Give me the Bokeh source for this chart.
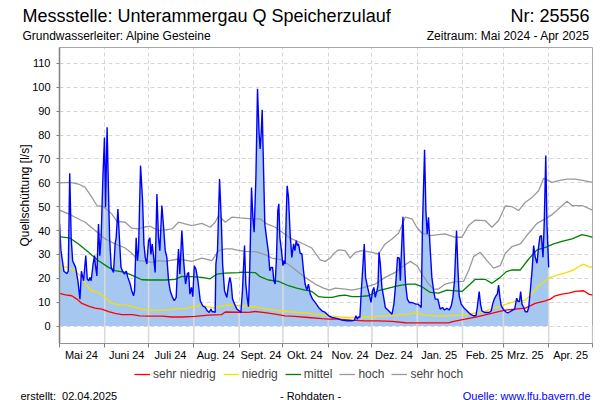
import numpy as np
import pandas as pd
from bokeh.plotting import figure
from bokeh.layouts import column
from bokeh.models import (Range1d, FixedTicker, CustomJSTickFormatter, Label,
                          Legend, LegendItem)
from bokeh.embed import file_html
from bokeh.resources import INLINE

# ---------------- data (x = days since 2024-05-01) ----------------
START = "2024-05-01"
END = "2025-05-01"

flow_day = [0, 1, 3, 5, 6, 7, 8, 9, 11, 12.6, 14, 15, 16.5, 18, 19, 20, 21, 21.7, 23, 24, 24.5,
            25.6, 26.7, 27.6, 28.5, 29.7, 30.8, 31.5, 32.6, 33.6, 34.3, 35.4, 37, 38.1, 38.8, 40,
            41, 42.1, 43.2, 44.5, 45.7, 46.8, 48.4, 49.5, 50.7, 51.4, 52.5, 53.4, 54.1, 55.5, 56.9,
            57.8, 58.7, 59.8, 61, 61.9, 62.6, 63.5, 64.6, 65.5, 66.7, 67.8, 68.7, 70.1, 71.3, 72.4,
            73.5, 74.7, 75.8, 77.4, 78.6, 79.9, 80.8, 81.5, 82.4, 83.8, 85, 86.3, 87.5, 88.4, 89.3,
            90.4, 91.3, 92.3, 93.4, 94.8, 96.4, 98, 99.8, 101.2, 102.5, 103.7, 104.6, 105.7, 106.6,
            107.1, 108.2, 109.6, 110.8, 111.7, 113, 114.6, 115.8, 116.7, 117.6, 118.5, 119.9, 121.5,
            123, 124.2, 125.3, 126.7, 127.6, 128.5, 129.4, 130.3, 131.5, 132.4, 133.3, 134.5, 135.6,
            136.7, 137.4, 138.1, 138.8, 139.7, 140.6, 142, 143.1, 144, 145, 145.9, 146.8, 147.7,
            148.6, 149.5, 150.2, 150.9, 152, 153, 153.9, 154.5, 155.2, 155.9, 156.8, 158, 159.1,
            160.3, 161.2, 162.1, 163, 163.7, 164.8, 166, 167.1, 168.2, 169.4, 170.5, 171.7, 173.3,
            175.1, 177.4, 179.7, 182, 184.3, 186.6, 190, 193.4, 196.8, 200.3, 202, 203, 204, 204.8,
            205.7, 206.7, 208.7, 209.6, 211, 212.1, 213.3, 214.4, 215.3, 216.2, 217.4, 218.1, 218.8,
            219.7, 220.8, 222, 223.1, 225.4, 227.7, 229, 230.4, 231.5, 232.7, 233.4, 234, 235.2,
            236.1, 237, 238.2, 239.5, 240.9, 242.5, 244.1, 245.4, 246.8, 247.7, 248.6, 250, 250.9,
            251.8, 252.7, 253.9, 255, 256.2, 257.3, 259.1, 260.7, 262.3, 263.7, 265.3, 266.9, 268.3,
            269.4, 270.5, 271.9, 272.8, 273.7, 275.1, 276.7, 279, 281.3, 283.6, 285.2, 286.1, 287.4,
            288.3, 289.3, 291.1, 292.7, 294.3, 295.7, 296.6, 297.7, 298.9, 299.8, 300.7, 301.6,
            302.5, 304, 305.5, 307, 308.7, 310.3, 311.7, 313.1, 314, 315, 315.8, 316.7, 317.9, 319,
            320.4, 321.3, 322.4, 323.6, 324.7, 325.8, 327, 327.9, 329, 330, 331.1, 332, 333, 333.8,
            335]
flow_val = [42.8, 31.6, 23, 22, 23, 64, 37, 27.4, 24.6, 19, 11.3, 23, 19, 29.5, 19.7, 19, 20.4, 19,
            26, 29.5, 26, 21, 42.8, 29.5, 37, 62, 79, 49.8, 83.3, 55, 37, 24.6, 22.5, 34.4, 37, 49,
            37, 24.6, 23, 21.8, 23, 20.4, 17.6, 14.8, 12.7, 14.8, 37, 27.4, 31.6, 67.2, 52.5, 34.4,
            28.8, 26, 35.8, 37, 30, 34.4, 28, 22.5, 55.3, 37, 31.6, 50.5, 41.4, 31.6, 28.8, 19, 14.8,
            12, 10.6, 12, 24.6, 32.3, 21.8, 40, 27.4, 17.6, 21.8, 22.5, 13.4, 16.2, 12.3, 25.3, 23.9,
            19, 10.6, 8.5, 7.8, 6.4, 5.7, 7.1, 6, 6, 5.7, 26, 31.6, 61.6, 44.2, 26, 14.8, 12, 17.6,
            20.4, 17.6, 11.3, 9.2, 7.1, 6.4, 5.7, 14.8, 33.7, 17.6, 12, 8.1, 24.6, 58, 45.6, 39.3,
            62.3, 99.4, 80.5, 74.2, 80.5, 90.6, 66.5, 42.8, 35.8, 30.9, 23.2, 24.6, 24.6, 19, 17.6,
            28.8, 48.4, 51.2, 37.2, 31.6, 25.3, 27.4, 26, 44.9, 58.8, 54, 37.9, 28.8, 34.4, 31.6,
            35.8, 33.7, 34.4, 30.5, 30.2, 23.2, 17.6, 15.1, 17.6, 13.4, 11.3, 9.9, 7.8, 6.4, 5.7,
            4.3, 3.6, 3.2, 2.5, 2.2, 2.2, 2.5, 4.3, 2.9, 3.9, 3.6, 14.8, 34.4, 20.4, 16.2, 13.4, 9.9,
            14.8, 16.2, 12, 14.8, 16.9, 30.9, 26, 16.2, 12, 7.8, 6.4, 5, 9.2, 19, 28.8, 28.5, 19,
            28.8, 45.8, 28.8, 17.6, 11.3, 9.9, 9.9, 9.6, 9.2, 9.2, 8.5, 7.8, 42.8, 73.9, 48.4, 38.6,
            45.6, 31.6, 20.4, 14.8, 11.3, 11.3, 7.1, 7.8, 6.7, 7.5, 6.7, 8.5, 12, 19, 40, 24.6, 12.7,
            9.2, 7.8, 6.4, 5, 4.3, 4.3, 7.8, 14.5, 9.2, 6.4, 5.7, 5.7, 5.7, 6.4, 9.2, 11.3, 12.7,
            13.4, 17.2, 12, 8.5, 7, 6, 5.5, 6.1, 6.7, 7.1, 11.7, 10.3, 10.3, 14.5, 9.2, 7.8, 6, 6,
            7.8, 14.8, 23.2, 33.7, 28.8, 26.3, 32.3, 37.5, 37.9, 28.8, 44.2, 71.4, 42.8, 24.6]

sehr_niedrig_day = [0, 4, 8.4, 11.9, 15.3, 19.9, 24.4, 29, 33.6, 38.1, 42.7, 50, 55, 61, 70, 77, 84,
                    93, 102, 111, 113.5, 122.6, 129.4, 134, 140.8, 147.7, 154.5, 161.4, 170.5,
                    179.7, 185, 191, 200, 209, 218.5, 227.7, 237, 247, 255, 266.4, 270, 277.8,
                    285.8, 293.8, 300.7, 305.3, 312, 319, 325.8, 332.7, 336.1, 339.5, 344.1, 348.7,
                    353.2, 359, 362.4, 365]
sehr_niedrig_val = [13.7, 13.1, 12.7, 11.3, 9.5, 8.4, 7.5, 7.1, 6.1, 5.3, 4.8, 4.8, 4.3, 4.2, 4.2,
                    3.8, 3.8, 4.1, 4.6, 4.8, 5.9, 5.8, 5.7, 6.1, 5.6, 5, 4.3, 4.1, 3.6, 3.1, 2.9,
                    2.9, 2.5, 2.2, 2.2, 2, 1.4, 1.3, 1.3, 1.3, 2, 2.9, 3.9, 5, 6.1, 6.7, 7.1, 7.5,
                    9.5, 10.6, 11.3, 12.7, 13.4, 13.8, 14.5, 14.8, 13.4, 13]

niedrig_day = [0, 6, 10.7, 15.3, 18.7, 22, 26.7, 31.3, 35.8, 40.4, 46, 51.8, 56.4, 62, 72.4, 79.2,
               86, 93, 96.4, 101, 105.5, 110, 114.6, 122.6, 127, 134, 140.8, 147.7, 156.8, 166,
               175, 185.4, 189, 195.7, 204.8, 214, 223, 232, 239, 243.6, 250.5, 257.3, 266.4,
               275.6, 284.7, 289.3, 295, 300.7, 306, 312.1, 319, 323.6, 328.1, 332.7, 336.1,
               341.8, 347.5, 353.2, 356.7, 359, 362, 365]
niedrig_val = [24.9, 24.6, 23.2, 20.4, 16.9, 14.8, 14.1, 12, 9.6, 8.9, 8.9, 7.8, 7.1, 6.7, 6.7, 7.1,
               7.4, 8.1, 8.9, 8.1, 7.5, 8.1, 8.8, 8.6, 8.4, 8.1, 7.1, 6.7, 6, 5.6, 5, 4.3, 4.1,
               3.6, 3.6, 3.9, 4.3, 4.6, 5, 5.5, 4.6, 4.3, 4.3, 4.6, 5.5, 5.7, 7, 8.1, 9.2, 10.3,
               10.9, 13.4, 16.9, 19, 20.4, 21.5, 22.5, 23.9, 25.3, 26, 24.9, 24.6]

mittel_day = [0, 7.3, 13, 19.9, 26.7, 33.6, 38, 45, 51.8, 56.4, 62, 72.4, 79.2, 83.8, 90.7, 97.5,
              103.2, 107.8, 113.5, 122.6, 124.9, 134, 137.4, 143, 150, 156.8, 162.5, 168.2, 172.8,
              177.4, 182, 186.6, 191, 195.7, 200.3, 204.8, 211.7, 218.5, 225.4, 232.2, 239,
              243.6, 248.2, 253.9, 259.6, 265.3, 275.6, 281.3, 284.7, 291.5, 296.1, 301.8, 306,
              309.9, 315.6, 321.3, 327, 332.7, 338.4, 344.1, 351, 357.8, 362.4, 365]
mittel_val = [37.5, 36.8, 34.4, 30.9, 27.4, 24.6, 23.2, 22.5, 20.7, 19.4, 19.3, 19.3, 19.6, 20.8,
              20.7, 20.4, 19.8, 21.8, 22.2, 22.4, 22.6, 22.4, 20.7, 19.3, 18.7, 16.9, 15.9, 15.1,
              14.5, 12.3, 12, 12, 12.7, 13, 12.3, 12.3, 12.7, 14.8, 15.9, 16.9, 17.6, 17.6, 16.5,
              14.1, 13.8, 15.1, 14.5, 17.6, 19.6, 19.6, 17.9, 20.4, 22.8, 23.5, 23.5, 28.1, 31.9,
              33, 34.4, 35.5, 36.5, 38.3, 37.7, 37.2]

hoch_day = [0, 6.2, 10.7, 17.6, 24.4, 31.3, 38.1, 45, 49.5, 54.1, 58.7, 63.3, 67.8, 72.4, 81.5,
            90.7, 97.5, 104.4, 109, 113.5, 118, 122.6, 127, 134, 140.8, 145.4, 152.3, 158, 163.7,
            168.2, 175, 180.8, 185, 188.8, 195.7, 200.3, 207, 216.2, 223, 230, 235.7, 240.2,
            244.8, 247, 249, 252.7, 256.2, 259.6, 264.1, 271, 276.7, 280.1, 283.6, 288.1, 292.7,
            297.3, 301.8, 305.3, 309.9, 315.6, 321.3, 327, 332.7, 337.3, 343, 347.5, 351, 357.8,
            365]
hoch_val = [48.6, 47, 45.6, 43.5, 40, 36.5, 34.4, 32.7, 30.5, 27.4, 27.2, 26.7, 27.4, 27.1, 28.1,
            27.1, 28.5, 27.4, 31.6, 32.3, 32.3, 31.7, 31.3, 31.2, 29.9, 28.5, 27.7, 25.3, 22.5,
            20.4, 17.6, 15.9, 15.1, 15.9, 15.5, 15.1, 15.9, 17.6, 20.4, 22.5, 25.3, 27.1, 25.3,
            23, 21, 17.6, 15.5, 15.5, 17.6, 18.6, 18.7, 23.2, 29.1, 30.9, 27.4, 24.3, 25.3, 30.5,
            33.3, 34.4, 38.9, 43, 44.9, 46.7, 49.8, 52.3, 50.5, 50.5, 48.6]

sehr_hoch_day = [0, 7.3, 13, 17.6, 22.1, 25.6, 30.1, 35.8, 39.3, 45, 49.5, 54.1, 58.7, 62, 67.8,
                 72.4, 77, 81.5, 86, 90.7, 97.5, 103.2, 106.6, 109, 113.5, 118, 123.8, 131.7,
                 137.4, 142, 147.7, 153.4, 159.1, 166, 172.8, 178.5, 182, 185.4, 188, 191, 195.7,
                 199, 202.5, 207, 214, 218.5, 223, 227.7, 232.2, 236.8, 241.4, 244.5, 248.2,
                 253.9, 264.1, 271, 275.6, 280.1, 284.7, 291.5, 296.1, 300.7, 305.3, 309.9, 314.4,
                 319, 323.6, 328.1, 331.6, 337.3, 341.8, 347.5, 353.2, 359, 365]
sehr_hoch_val = [60, 60.2, 59.5, 58.1, 54, 50.5, 50, 47, 43.9, 43.5, 41, 40.7, 41.6, 41.8, 40,
                 40.3, 40.7, 43.5, 42.8, 42.1, 43, 41.4, 43.5, 46.3, 43.5, 45.6, 45.3, 44.9, 44.9,
                 42.8, 41.4, 38.9, 36.5, 34.7, 32.7, 27.7, 27.1, 28.5, 30.5, 31.9, 31.6, 28.5,
                 30.9, 31.6, 30.9, 30.2, 34.4, 36.5, 38.9, 45.6, 44.9, 41.6, 38.9, 37.9, 38.6,
                 37.2, 37.2, 42.1, 44.4, 44.2, 41.4, 44.2, 50.3, 50, 48.4, 51.9, 53.9, 56.7, 61.9,
                 60.2, 60.9, 61.6, 61.6, 60.9, 60.2]

y_ticks = [0, 10, 20, 30, 40, 50, 60, 70, 80, 90, 100, 110]
MONTH_NAMES = ["Jan.", "Feb.", "Mrz.", "Apr.", "Mai", "Juni", "Juli", "Aug.", "Sept.", "Okt.",
               "Nov.", "Dez."]

TITLE = "Messstelle: Unterammergau Q Speicherzulauf"
NUMBER = "Nr: 25556"
SUBTITLE = "Grundwasserleiter: Alpine Gesteine"
PERIOD = "Zeitraum: Mai 2024 - Apr 2025"
Y_LABEL = "Quellschüttung [l/s]"
CREATED = "erstellt:\u00a0 02.04.2025"
RAW = "- Rohdaten -"
SOURCE = "Quelle: www.lfu.bayern.de"
LEGEND_LABELS = ["sehr niedrig", "niedrig", "mittel", "hoch", "sehr hoch"]
LEGEND_COLORS = ["#ff0000", "#f2e000", "#008000", "#999999", "#999999"]

# ---------------- helpers ----------------
t0 = pd.Timestamp(START)


def to_dt(days):
    return (t0 + pd.to_timedelta(np.asarray(days, dtype=float), unit="D")).to_numpy()


month_starts = pd.date_range(START, END, freq="MS")
mid_months = pd.date_range(START, "2025-04-01", freq="MS") + pd.Timedelta(days=15)


def to_ms(idx):
    return [float(v) for v in (idx.asi8 // 10**6)]


FONT = "Liberation Sans"
Y0, Y1 = -7.3, 116.7
W = 600
BL, BR = 59, 8
HEAD_H, MAIN_H, FOOT_H = 46, 317, 37


def text_panel(h):
    f = figure(width=W, height=h, x_range=Range1d(0, W), y_range=Range1d(h, 0),
               x_axis_location=None, y_axis_location=None, output_backend="svg",
               toolbar_location=None, min_border=0)
    if "frame_align" in f.properties():
        f.frame_align = False          # keep the full-width frame (do not align with the chart)
    f.grid.visible = False
    f.outline_line_color = None
    f.background_fill_color = "white"
    f.border_fill_color = "white"
    return f


def put(fig, text, X, Y, size, align="left", baseline="middle", color="black"):
    fig.add_layout(Label(x=X, y=Y, x_units="data", y_units="data", text=text,
                         text_font=FONT, text_font_size=size, text_align=align,
                         text_baseline=baseline, text_color=color))


# ---------------- header ----------------
head = text_panel(HEAD_H)
put(head, TITLE, 22, 15, "18px")
put(head, NUMBER, 589, 15, "18px", align="right")
put(head, SUBTITLE, 22, 35, "12px")
put(head, PERIOD, 589, 35, "12px", align="right")

# ---------------- main chart ----------------
p = figure(width=W, height=MAIN_H, x_axis_type="datetime",
           x_range=Range1d(pd.Timestamp(START), pd.Timestamp(END)),
           y_range=Range1d(Y0, Y1),
           output_backend="svg", toolbar_location=None,
           min_border_left=BL, min_border_right=BR, min_border_top=1, min_border_bottom=20)
if "frame_align" in p.properties():
    p.frame_align = False
p.background_fill_color = "white"
p.border_fill_color = "white"
p.outline_line_color = "#a8a8a8"

p.xgrid.ticker = FixedTicker(ticks=to_ms(month_starts))
p.ygrid.ticker = FixedTicker(ticks=y_ticks)
for g in (p.xgrid, p.ygrid):
    g.grid_line_color = "#d6d6d6"
    g.grid_line_dash = "4 3"
    g.grid_line_width = 1

xax = p.xaxis[0]
xax.ticker = FixedTicker(ticks=to_ms(mid_months), minor_ticks=to_ms(month_starts))
xax.formatter = CustomJSTickFormatter(args=dict(names=MONTH_NAMES), code="""
const d = new Date(tick);
return names[d.getUTCMonth()] + " " + String(d.getUTCFullYear() % 100).padStart(2, "0");
""")
xax.major_tick_out = 0
xax.major_tick_in = 0
xax.major_tick_line_color = None
xax.minor_tick_out = 4
xax.minor_tick_in = 0
xax.minor_tick_line_color = "#808080"
xax.axis_line_color = "#909090"
xax.major_label_standoff = 1
xax.major_label_text_font = FONT
xax.major_label_text_font_size = "11px"
xax.major_label_text_color = "black"

yax = p.yaxis[0]
yax.ticker = FixedTicker(ticks=y_ticks)
yax.major_tick_out = 3
yax.major_tick_in = 0
yax.major_tick_line_color = "#808080"
yax.minor_tick_line_color = None
yax.axis_line_color = "#808080"
yax.axis_line_width = 1.5
yax.major_label_standoff = 6
yax.major_label_text_font = FONT
yax.major_label_text_font_size = "11px"
yax.major_label_text_color = "black"
yax.axis_label = Y_LABEL
yax.axis_label_text_font = FONT
yax.axis_label_text_font_size = "12px"
yax.axis_label_text_font_style = "normal"
yax.axis_label_text_color = "black"
yax.axis_label_standoff = -3

fx = to_dt(flow_day)
p.varea(x=fx, y1=0, y2=flow_val, fill_color="#a6c8f0", fill_alpha=1.0)

ms_days = np.array([(d - t0).days for d in month_starts], dtype=float)
fill_top = np.interp(ms_days, np.asarray(flow_day, float), np.asarray(flow_val, float),
                     left=0, right=0)
p.segment(x0=month_starts.to_numpy(), y0=Y0, x1=month_starts.to_numpy(), y1=fill_top,
          line_color="#dadada", line_width=1.5)

series = [(sehr_niedrig_day, sehr_niedrig_val), (niedrig_day, niedrig_val),
          (mittel_day, mittel_val), (hoch_day, hoch_val), (sehr_hoch_day, sehr_hoch_val)]
for (d, v), c in zip(series, LEGEND_COLORS):
    p.line(to_dt(d), v, line_color=c, line_width=1.3)

p.line(fx, flow_val, line_color="#0000ff", line_width=1.4)

# ---------------- footer (legend + notes) ----------------
foot = text_panel(FOOT_H)
# legend-only renderers: their points lie outside the footer's visible range
dummies = [foot.line(x=[-50, -40], y=[5, 5], line_color=c, line_width=1.3) for c in LEGEND_COLORS]
legend = Legend(items=[LegendItem(label=l, renderers=[r]) for l, r in zip(LEGEND_LABELS, dummies)],
                orientation="horizontal", location=(134, 19),
                glyph_width=16, glyph_height=12, label_standoff=3, spacing=7,
                padding=0, margin=0, border_line_color=None, background_fill_alpha=0,
                label_text_font=FONT, label_text_font_size="12px", label_height=12)
foot.add_layout(legend)
put(foot, CREATED, 20, 32, "11px")
put(foot, RAW, 310, 32, "11px", align="center")
put(foot, SOURCE, 590, 32, "11px", align="right", color="#0000ff")

layout = column(head, p, foot, spacing=0)
open("out.html", "w").write(file_html(layout, INLINE))
